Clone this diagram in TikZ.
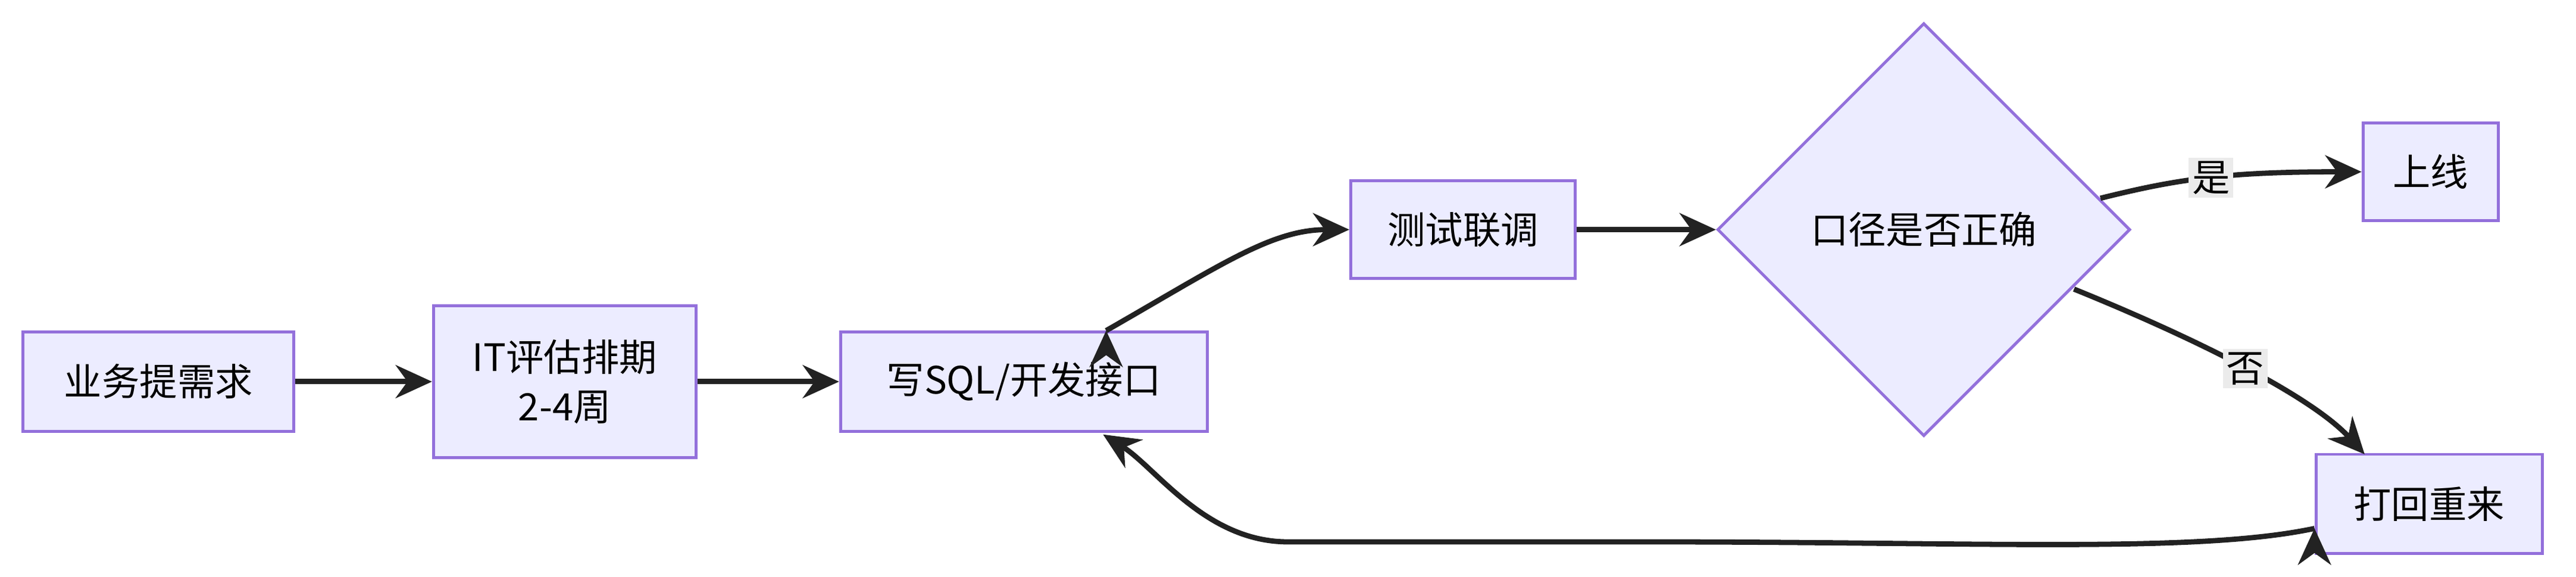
\documentclass[tikz,border=0pt]{standalone}
\usepackage{fontspec}
\setmainfont{Noto Sans CJK SC}
\usetikzlibrary{shapes.geometric,arrows.meta}
\definecolor{boxfill}{HTML}{ECECFF}
\definecolor{boxline}{HTML}{9370DB}
\definecolor{edge}{HTML}{222222}
\tikzset{
  box/.style={draw=boxline, fill=boxfill, line width=0.5pt, rectangle, align=center, inner sep=0pt},
  choice/.style={draw=boxline, fill=boxfill, line width=0.5pt, diamond, minimum width=25mm, minimum height=25mm, inner sep=0pt},
  flow/.style={draw=edge, line width=0.9pt, -{Stealth[length=2.2mm,width=2mm]}},
  tag/.style={fill=black!8, inner sep=0.6pt}
}
\begin{document}
\begin{tikzpicture}[x=0.1mm, y=-0.1mm, font=\fontsize{6.5}{8.5}\selectfont]
	\useasboundingbox (0,0) rectangle (1560,349);
	
	\node[box, minimum width=16.4mm, minimum height=6mm] (req) at (96,231) {业务提需求};
	\node[box, minimum width=15.9mm, minimum height=9.2mm] (plan) at (342,231) {IT评估排期\\2-4周};
	\node[box, minimum width=22.2mm, minimum height=6mm] (dev) at (620,231) {写SQL/开发接口};
	\node[box, minimum width=13.6mm, minimum height=5.9mm] (test) at (886,139) {测试联调};
	\node[choice] (check) at (1165,139) {口径是否正确};
	\node[box, minimum width=8.2mm, minimum height=5.9mm] (live) at (1472,104) {上线};
	\node[box, minimum width=13.7mm, minimum height=6mm] (redo) at (1471,305) {打回重来};
	
	\draw[flow] (req) -- (plan);
	\draw[flow] (plan) -- (dev);
	\draw[flow] (dev.north east) ++(-62,0) coordinate (d1);
	\draw[flow] (d1) .. controls (740,160) and (770,139) .. (test.west);
	\draw[flow] (test) -- (check);
	\draw[flow] (1272,120) .. controls (1320,108) and (1350,104) .. node[tag]{是} (live.west);
	\draw[flow] (1256,175) .. controls (1330,205) and (1400,240) .. node[tag, pos=0.5]{否} (1432,275);
	\draw[flow] (redo.south west) ++(0,-16) coordinate (r1);
	\draw[flow] (r1) .. controls (1330,335) and (1200,328) .. (1000,328)
		-- (780,328) .. controls (730,328) and (700,283) .. (668,263);
\end{tikzpicture}
\end{document}
